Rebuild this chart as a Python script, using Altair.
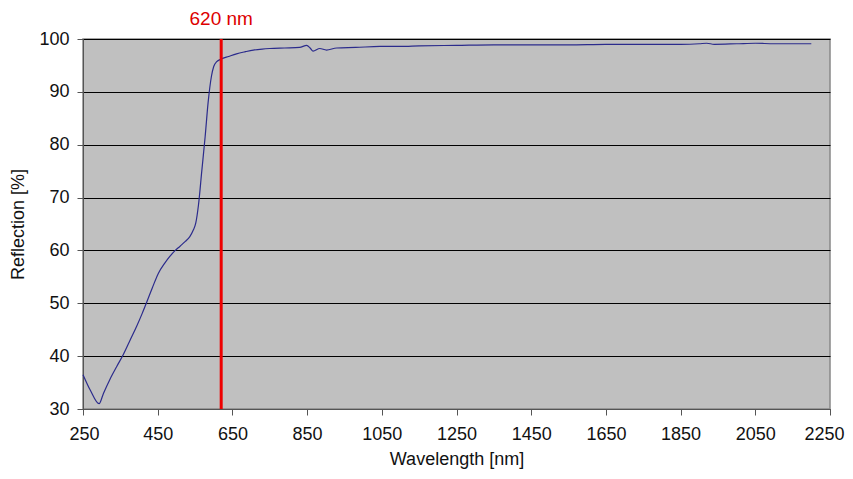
import altair as alt
import pandas as pd

wavelength = [250, 270, 293, 305, 322, 340, 358, 376, 394, 408, 420, 436, 452, 468, 483, 497,
              510, 524, 536, 545, 552, 559, 568, 577, 585, 594, 600, 608, 620, 640, 661, 685,
              706, 730, 750, 790, 830, 849, 858, 866, 884, 902, 929, 980, 1045, 1100, 1150,
              1250, 1350, 1450, 1550, 1650, 1750, 1850, 1900, 1920, 1940, 2000, 2050, 2100, 2150, 2200]
reflection = [36.5, 33.5, 31.0, 33.0, 35.6, 38.0, 40.3, 43.0, 45.7, 48.0, 50.1, 53.0, 55.7, 57.5, 58.9, 60.0,
              60.8, 61.7, 62.6, 63.8, 65.2, 68.5, 75.0, 81.5, 88.0, 93.0, 94.8, 95.7, 96.2, 96.7, 97.2, 97.6,
              97.9, 98.1, 98.2, 98.3, 98.4, 98.8, 98.3, 97.7, 98.2, 97.9, 98.3, 98.4, 98.6, 98.6, 98.7,
              98.8, 98.9, 98.9, 98.9, 99.0, 99.0, 99.0, 99.1, 99.2, 99.0, 99.1, 99.2, 99.1, 99.1, 99.1]

marker_wl = [620]
marker_label = ["620 nm"]

x_ticks = [250, 450, 650, 850, 1050, 1250, 1450, 1650, 1850, 2050, 2250]
y_ticks = [30, 40, 50, 60, 70, 80, 90, 100]

df = pd.DataFrame({"wl": wavelength, "r": reflection})
mk = pd.DataFrame({"wl": marker_wl, "label": marker_label})

FONT = "Liberation Sans"

x_scale = alt.Scale(domain=[250, 2250], nice=False, zero=False)
y_scale = alt.Scale(domain=[30, 100], nice=False, zero=False)

line = alt.Chart(df).mark_line(color="#2b2b8c", strokeWidth=1.2, interpolate="monotone").encode(
    x=alt.X("wl:Q", scale=x_scale,
            axis=alt.Axis(values=x_ticks, format="d", title="Wavelength [nm]", grid=False,
                          labelFontSize=18, titleFontSize=18, labelColor="#111", titleColor="#111",
                          titleFontWeight="normal", labelFont=FONT, titleFont=FONT,
                          domainColor="#555", tickColor="#555", tickSize=6,
                          labelPadding=10, titlePadding=7, labelFlush=True, labelFlushOffset=14)),
    y=alt.Y("r:Q", scale=y_scale,
            axis=alt.Axis(values=y_ticks, format="d", title="Reflection [%]", grid=True, gridColor="#000",
                          gridWidth=1, labelFontSize=18, titleFontSize=18, labelColor="#111",
                          titleColor="#111", titleFontWeight="normal", labelFont=FONT, titleFont=FONT,
                          domainColor="#555", tickColor="#555", tickSize=6, labelPadding=8,
                          titlePadding=11)),
)

vline = alt.Chart(mk).mark_rule(color="#ee0000", strokeWidth=3).encode(
    x=alt.X("wl:Q", scale=x_scale)
)

label = alt.Chart(mk).mark_text(color="#dd0000", fontSize=19, font=FONT, baseline="middle",
                                clip=False).encode(
    x=alt.X("wl:Q", scale=x_scale),
    y=alt.value(-20),
    text="label:N",
)

chart = alt.layer(line, vline, label).properties(
    width=747, height=370,
    autosize=alt.AutoSizeParams(type="none"),
    padding={"left": 75, "top": 31, "right": 15, "bottom": 62},
).configure_view(fill="#c0c0c0", stroke="#888", strokeWidth=1.5)

chart.save("out.html", embed_options={"renderer": "svg", "actions": False})
